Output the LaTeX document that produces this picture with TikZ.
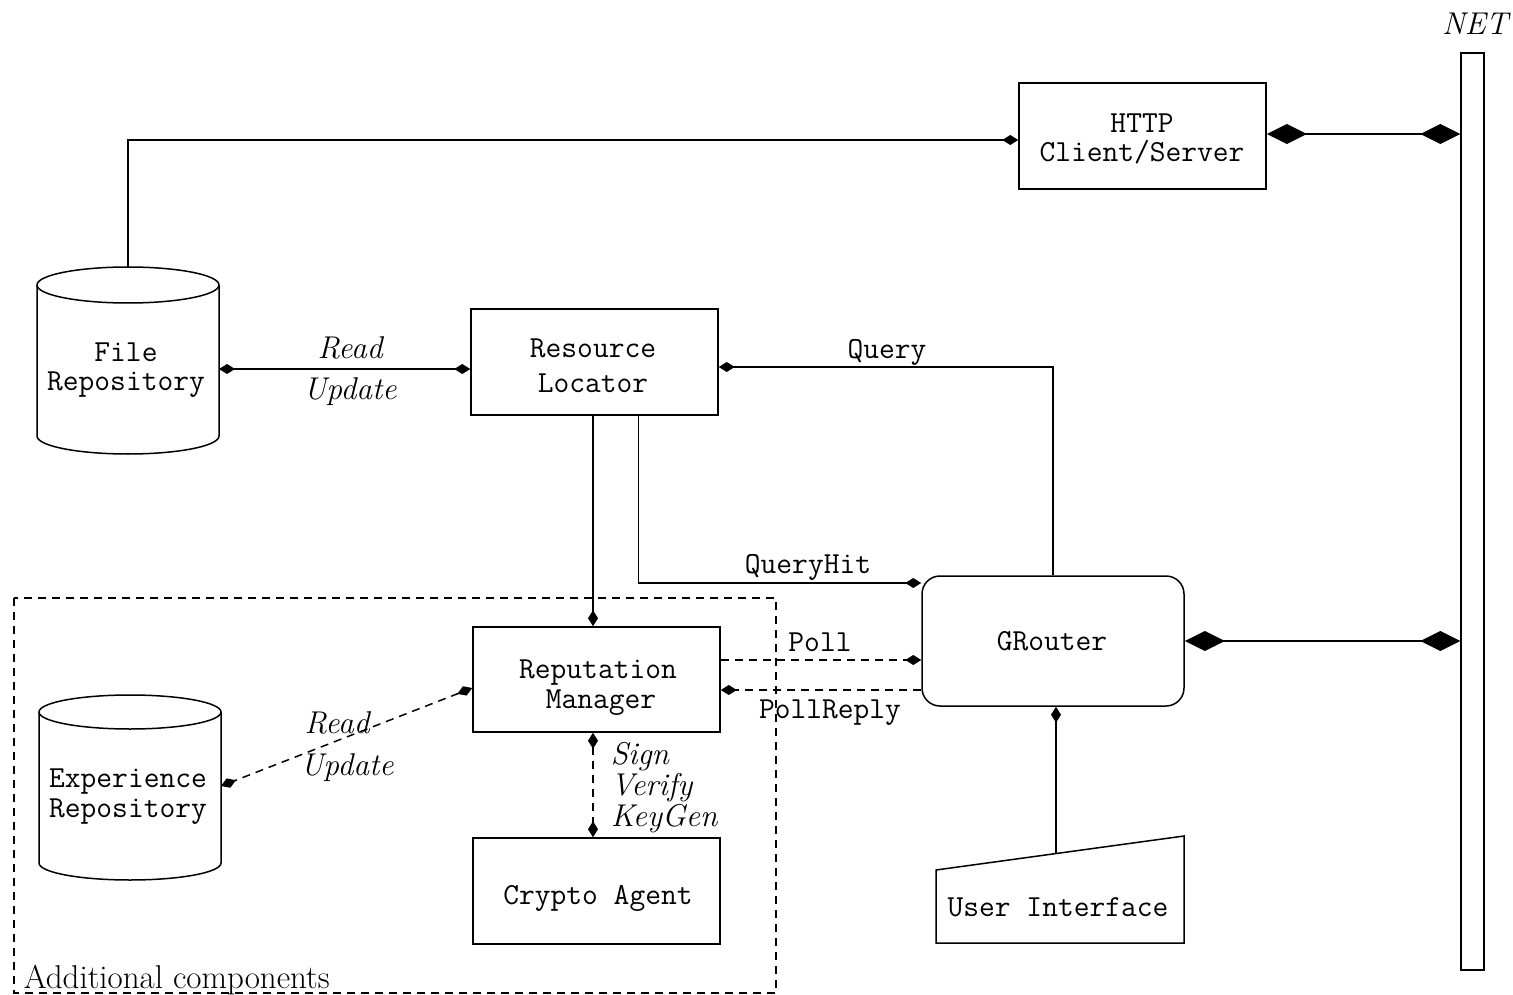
\documentclass[tikz,border=0pt]{standalone}
\usetikzlibrary{arrows.meta,calc}
\begin{document}
\begin{tikzpicture}[x=1pt,y=-1pt,line width=1.5pt,
  tt/.style={font=\fontsize{30.6}{32}\selectfont\ttfamily},
  ttl/.style={tt,anchor=base,inner sep=0pt},
  it/.style={font=\fontsize{31.5}{31}\selectfont\itshape},
  rm/.style={font=\fontsize{33}{36}\selectfont},
  box/.style={draw,rectangle,minimum width=247pt,minimum height=106pt,inner sep=0pt},
  sd/.style={-{Diamond[length=16pt,width=10pt]}},
  dd/.style={{Diamond[length=16pt,width=10pt]}-{Diamond[length=16pt,width=10pt]}},
  bigdd/.style={{Diamond[length=40pt,width=20pt]}-{Diamond[length=40pt,width=20pt]}},
  dsh/.style={dash pattern=on 8pt off 6pt}]
\useasboundingbox (0,0) rectangle (1513,995);

% NET bar
\node[draw,rectangle,minimum width=23pt,minimum height=917pt,inner sep=0pt] (net) at (1472.5,511.5) {};
\node[it] (netlbl) at (1475,24) {NET};

% boxes
\node[box] (http) at (1142.5,136) {};
\node[tt,align=center,inner sep=0pt] (httpt) at (1142,139.4) {HTTP\\[-3pt]Client/Server};
\node[box] (rl) at (594.5,362) {};
\node[ttl] (rla) at (593,357) {Resource};
\node[ttl] (rlb) at (593,392) {Locator};
\node[box,minimum height=105pt] (rmgr) at (596.5,679.5) {};
\node[ttl] (rma) at (598,678) {Reputation};
\node[ttl] (rmb) at (601,708) {Manager};
\node[box] (ca) at (596.5,891) {};
\node[ttl] (cat) at (598,904) {Crypto Agent};
\node[draw,rectangle,rounded corners=18pt,minimum width=262pt,minimum height=130pt,inner sep=0pt] (gr) at (1053,641) {};
\node[ttl] (grt) at (1052,650) {GRouter};

% File repository cylinder
\draw (37,285) -- (37,436) arc[start angle=180,end angle=360,x radius=91pt,y radius=18pt] -- (219,285);
\draw (128,285) ellipse [x radius=91pt,y radius=18pt];
\node[tt,align=center,inner sep=0pt] (frt) at (126,370) {File\\[-3pt]Repository};
\coordinate (frtop) at (128,267);
\coordinate (frR) at (219,369);

% Experience repository cylinder
\draw (39,712) -- (39,863) arc[start angle=180,end angle=360,x radius=91pt,y radius=17pt] -- (221,712);
\draw (130,712) ellipse [x radius=91pt,y radius=17pt];
\node[ttl] (era) at (128,787) {Experience};
\node[ttl] (erb) at (128,817) {Repository};
\coordinate (erR) at (221,786);

% User interface
\draw (936,870) -- (1184,836) -- (1184,943) -- (936,943) -- cycle;
\node[tt] (ui) at (1058,907) {User Interface};
\coordinate (uitop) at (1056,853.5);

% Additional components
\draw[dsh] (14,598) rectangle (776,993);
\node[rm,anchor=base west,inner sep=0pt] (addc) at (23,988) {Additional components};

% connectors
\draw[sd] (frtop) |- ([yshift=-4pt]http.west);
\draw[bigdd] ([yshift=2pt]http.east) -- ([yshift=2pt]http.east -| net.west);
\draw[dd] (frR) -- (frR -| rl.west);
\node[it] (rd1) at (350,348) {Read};
\node[it] (up1) at (350,392) {Update};
\draw[sd] (gr.north) |- ([yshift=-5pt]rl.east);
\node[tt] (qlbl) at (887,352) {Query};
\draw[sd] ([xshift=44pt]rl.south) |- ([yshift=58pt]gr.west);
\node[tt] (qhlbl) at (808,567) {QueryHit};
\draw[sd] ([xshift=-1.5pt]rl.south) -- ([xshift=-1.5pt]rl.south |- rmgr.north);
\coordinate (pl) at ([yshift=19.5pt]rmgr.east);
\draw[sd,dsh] (pl) -- (pl -| gr.west);
\node[tt] (pllbl) at (820,642) {Poll};
\coordinate (pr) at ([yshift=-10.5pt]rmgr.east);
\draw[sd,dsh] (pr -| gr.west) -- (pr);
\node[tt] (prlbl) at (830,713) {PollReply};
\draw[bigdd] (gr.east) -- (gr.east -| net.west);
\draw[sd] (uitop) -- (uitop |- gr.south);
\draw[dd,dsh] ([yshift=-8.5pt]rmgr.west) -- (erR);
\node[it] (rd2) at (337,723) {Read};
\node[it] (up2) at (347,768) {Update};
\draw[dd,dsh] ([xshift=-3.5pt]rmgr.south) -- ([xshift=-3.5pt]ca.north);
\node[it,align=left,anchor=west,inner sep=0pt] (svk) at (610,788) {Sign\\Verify\\KeyGen};
\end{tikzpicture}
\end{document}
